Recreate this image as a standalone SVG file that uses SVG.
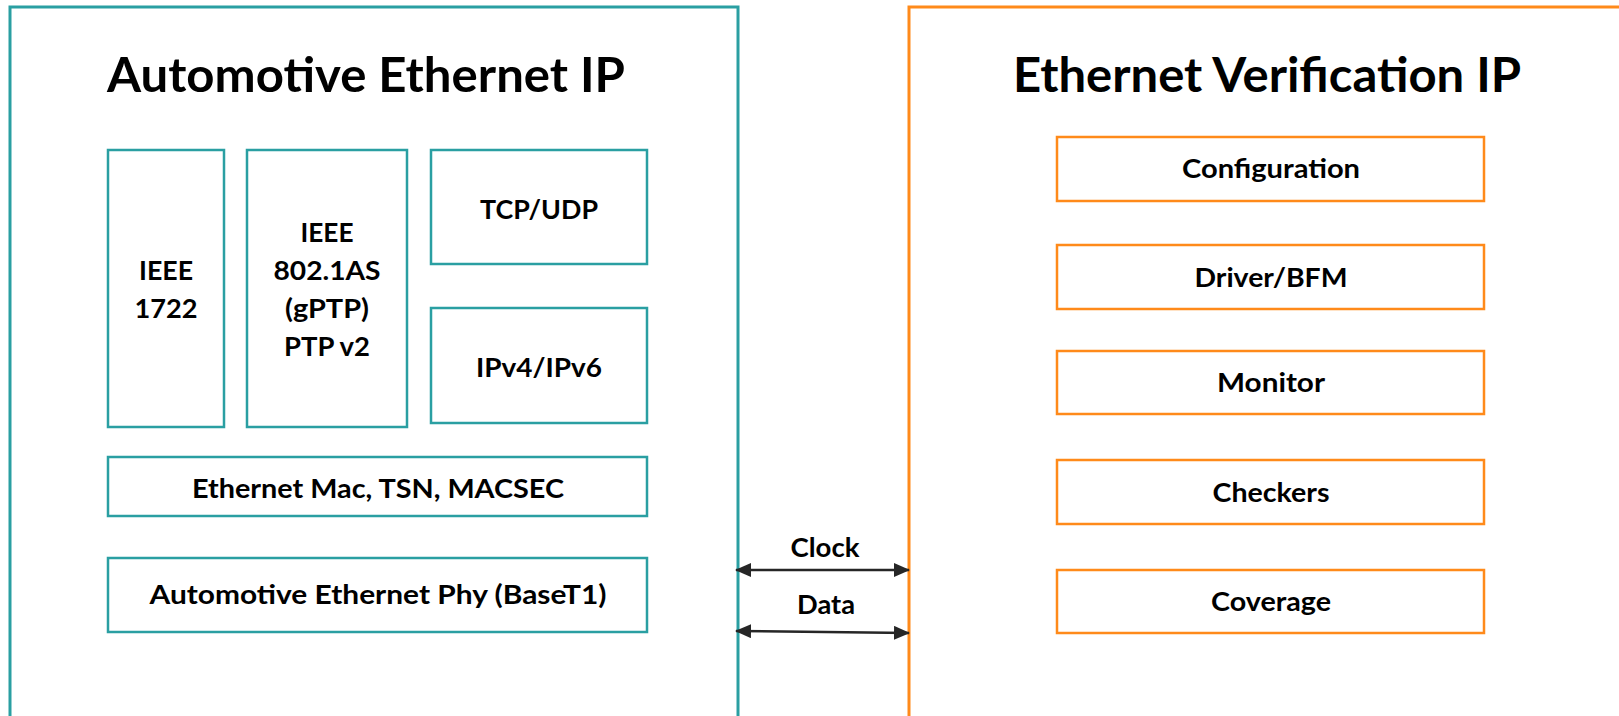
<svg xmlns="http://www.w3.org/2000/svg" width="1619" height="716" viewBox="0 0 1619 716">
  <style>
    .outer-teal { fill: none; stroke: #2A9FA2; stroke-width: 3; }
    .outer-orange { fill: none; stroke: #FF8A1A; stroke-width: 3; }
    .box-teal { fill: #FFFFFF; stroke: #2A9FA2; stroke-width: 2.5; }
    .box-orange { fill: #FFFFFF; stroke: #FF8A1A; stroke-width: 2.5; }
    .title { font-family: Lato, "Open Sans", "Liberation Sans", sans-serif; font-weight: 700; font-size: 47px; fill: #000000; text-anchor: middle; }
    .label { font-family: Lato, "Open Sans", "Liberation Sans", sans-serif; font-weight: 700; font-size: 27px; fill: #000000; text-anchor: middle; }
    .link { stroke: #262626; stroke-width: 2.5; fill: none; }
  </style>
  <defs>
    <marker id="arrowhead" viewBox="0 0 16 14" refX="15" refY="7" markerWidth="16" markerHeight="14" markerUnits="userSpaceOnUse" orient="auto-start-reverse">
      <path d="M0,0 L16,7 L0,14 Z" fill="#262626"/>
    </marker>
  </defs>

  <rect width="1619" height="716" fill="#FFFFFF"/>

  <!-- Design under test -->
  <g id="automotive-ethernet-ip">
    <rect class="outer-teal" x="10" y="7" width="728" height="730"/>
    <text class="title" x="366" y="92" textLength="518" lengthAdjust="spacingAndGlyphs">Automotive Ethernet IP</text>
  </g>

  <g id="ieee-1722">
    <rect class="box-teal" x="108" y="150" width="116" height="277"/>
    <text class="label" x="166" y="280" textLength="54" lengthAdjust="spacingAndGlyphs">IEEE</text>
    <text class="label" x="166" y="318" textLength="63" lengthAdjust="spacingAndGlyphs">1722</text>
  </g>

  <g id="ieee-802-1as">
    <rect class="box-teal" x="247" y="150" width="160" height="277"/>
    <text class="label" x="327" y="242" textLength="53" lengthAdjust="spacingAndGlyphs">IEEE</text>
    <text class="label" x="327" y="280" textLength="107" lengthAdjust="spacingAndGlyphs">802.1AS</text>
    <text class="label" x="327" y="318" textLength="84" lengthAdjust="spacingAndGlyphs">(gPTP)</text>
    <text class="label" x="327" y="356" textLength="86" lengthAdjust="spacingAndGlyphs">PTP v2</text>
  </g>

  <g id="tcp-udp">
    <rect class="box-teal" x="431" y="150" width="216" height="114"/>
    <text class="label" x="539" y="219" textLength="118" lengthAdjust="spacingAndGlyphs">TCP/UDP</text>
  </g>

  <g id="ipv4-ipv6">
    <rect class="box-teal" x="431" y="308" width="216" height="115"/>
    <text class="label" x="539" y="377" textLength="126" lengthAdjust="spacingAndGlyphs">IPv4/IPv6</text>
  </g>

  <g id="ethernet-mac">
    <rect class="box-teal" x="108" y="457" width="539" height="59"/>
    <text class="label" x="378" y="498" textLength="372" lengthAdjust="spacingAndGlyphs">Ethernet Mac, TSN, MACSEC</text>
  </g>

  <g id="ethernet-phy">
    <rect class="box-teal" x="108" y="558" width="539" height="74"/>
    <text class="label" x="378" y="604" textLength="457" lengthAdjust="spacingAndGlyphs">Automotive Ethernet Phy (BaseT1)</text>
  </g>

  <!-- Verification environment -->
  <g id="ethernet-verification-ip">
    <rect class="outer-orange" x="909" y="7" width="730" height="730"/>
    <text class="title" x="1267" y="92" textLength="508" lengthAdjust="spacingAndGlyphs">Ethernet Verification IP</text>
  </g>

  <g id="configuration">
    <rect class="box-orange" x="1057" y="137" width="427" height="64"/>
    <text class="label" x="1271" y="178" textLength="178" lengthAdjust="spacingAndGlyphs">Configuration</text>
  </g>

  <g id="driver-bfm">
    <rect class="box-orange" x="1057" y="245" width="427" height="64"/>
    <text class="label" x="1271" y="287" textLength="153" lengthAdjust="spacingAndGlyphs">Driver/BFM</text>
  </g>

  <g id="monitor">
    <rect class="box-orange" x="1057" y="351" width="427" height="63"/>
    <text class="label" x="1271" y="392" textLength="108" lengthAdjust="spacingAndGlyphs">Monitor</text>
  </g>

  <g id="checkers">
    <rect class="box-orange" x="1057" y="460" width="427" height="64"/>
    <text class="label" x="1271" y="502" textLength="117" lengthAdjust="spacingAndGlyphs">Checkers</text>
  </g>

  <g id="coverage">
    <rect class="box-orange" x="1057" y="570" width="427" height="63"/>
    <text class="label" x="1271" y="611" textLength="120" lengthAdjust="spacingAndGlyphs">Coverage</text>
  </g>

  <!-- Interface signals between the two blocks -->
  <g id="connectors">
    <line class="link" x1="736" y1="570" x2="909" y2="570" marker-start="url(#arrowhead)" marker-end="url(#arrowhead)"/>
    <text class="label" x="825" y="557" textLength="69" lengthAdjust="spacingAndGlyphs">Clock</text>
    <line class="link" x1="736" y1="631" x2="909" y2="633" marker-start="url(#arrowhead)" marker-end="url(#arrowhead)"/>
    <text class="label" x="826" y="614" textLength="58" lengthAdjust="spacingAndGlyphs">Data</text>
  </g>
</svg>
